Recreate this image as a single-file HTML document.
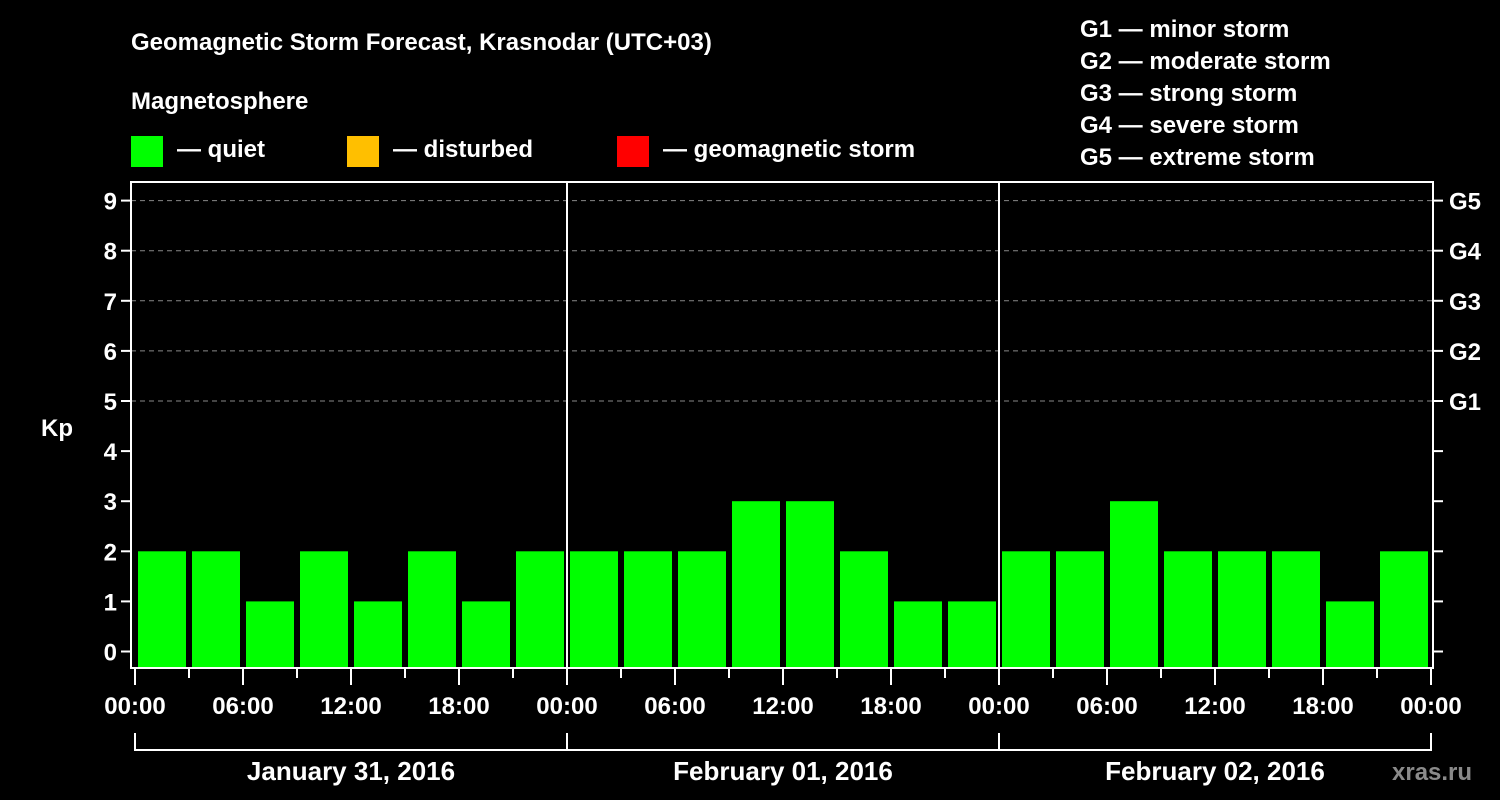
<!DOCTYPE html>
<html><head><meta charset="utf-8"><style>
body{margin:0;background:#000;width:1500px;height:800px;overflow:hidden}
svg{display:block}
text{font-family:"Liberation Sans",Arial,sans-serif;font-weight:bold;fill:#fff}
</style></head><body>
<svg id="c" width="1500" height="800" xmlns="http://www.w3.org/2000/svg">
<text x="131" y="50" font-size="24">Geomagnetic Storm Forecast, Krasnodar (UTC+03)</text>
<text x="131" y="109" font-size="24">Magnetosphere</text>
<rect x="131" y="136" width="32" height="31" fill="#00ff00"/>
<text x="177" y="157" font-size="24">— quiet</text>
<rect x="347" y="136" width="32" height="31" fill="#ffbf00"/>
<text x="393" y="157" font-size="24">— disturbed</text>
<rect x="617" y="136" width="32" height="31" fill="#ff0000"/>
<text x="663" y="157" font-size="24">— geomagnetic storm</text>
<g font-size="24">
<text x="1080" y="37">G1 — minor storm</text>
<text x="1080" y="69">G2 — moderate storm</text>
<text x="1080" y="101">G3 — strong storm</text>
<text x="1080" y="133">G4 — severe storm</text>
<text x="1080" y="165">G5 — extreme storm</text>
</g>
<text x="41" y="436" font-size="24">Kp</text>
<text x="1392" y="780" font-size="24" fill="#888" style="fill:#8a8a8a">xras.ru</text>
<g id="grid"></g><g id="bars"></g><g id="axes"></g>
</svg>
<script>
const values = [2,2,1,2,1,2,1,2, 2,2,2,3,3,2,1,1, 2,2,3,2,2,2,1,2];
const kpTicks = [0,1,2,3,4,5,6,7,8,9];
const gLabels = ['G1','G2','G3','G4','G5'];
const timeLabels = ['00:00','06:00','12:00','18:00'];
const dayLabels = ['January 31, 2016','February 01, 2016','February 02, 2016'];
const NS='http://www.w3.org/2000/svg';
const X0=135, DAYW=432, PL=131, PR=1433, PT=182, PB=668;
const y = v => 651.5 - v*50.1;
const xOfSlot = i => X0 + i*DAYW/8;
function mk(tag, attrs, parent, txt){const e=document.createElementNS(NS,tag);for(const k in attrs)e.setAttribute(k,attrs[k]);if(txt!==undefined)e.textContent=txt;parent.appendChild(e);return e;}
const grid=document.getElementById('grid'), bars=document.getElementById('bars'), axes=document.getElementById('axes');
kpTicks.forEach(k=>{
  if(k>=5){const l=mk('line',{x1:PL,x2:PR,y1:y(k),y2:y(k),stroke:'#888','stroke-dasharray':'5,4','stroke-width':1},grid);
  
  }
  const t=mk('line',{x1:PL-10,x2:PL,y1:y(k),y2:y(k),stroke:'#fff','stroke-width':2},axes);
  
  
  const t2=mk('line',{x1:PR,x2:PR+10,y1:y(k),y2:y(k),stroke:'#fff','stroke-width':2},axes);
  
  
  const lb=mk('text',{x:PL-14,y:y(k)+9,'font-size':24,'text-anchor':'end'},axes,String(k));
  
  
});
gLabels.forEach((g,i)=>{
  const lb=mk('text',{x:PR+16,y:y(5+i)+9,'font-size':24},axes,g);
  
  
});
values.forEach((v,i)=>{
  const col=v>=5?'#ff0000':(v>=4?'#ffbf00':'#00ff00');
  const r=mk('rect',{x:xOfSlot(i)+3,y:y(v),width:48,height:PB-y(v),fill:col},bars);
  
  
});
const frame=mk('rect',{x:PL,y:PT,width:PR-PL,height:PB-PT,fill:'none',stroke:'#fff','stroke-width':2},axes);


for(let d=1;d<dayLabels.length;d++){
  const l=mk('line',{x1:X0+d*DAYW,x2:X0+d*DAYW,y1:PT,y2:PB,stroke:'#fff','stroke-width':2},axes);
  
  
}
for(let i=0;i<=values.length;i++){
  const major=i%2===0;
  const l=mk('line',{x1:xOfSlot(i),x2:xOfSlot(i),y1:PB,y2:major?685:678,stroke:'#fff','stroke-width':2},axes);
  
  
  if(major){
    const lb=mk('text',{x:xOfSlot(i),y:714,'font-size':24,'text-anchor':'middle'},axes,timeLabels[(i/2)%4]);
    
    
  }
}
const br=mk('path',{d:`M${X0},733V750H${X0+DAYW*3}V733`,fill:'none',stroke:'#fff','stroke-width':2},axes);


dayLabels.forEach((d,i)=>{
  if(i>0){const l=mk('line',{x1:X0+i*DAYW,x2:X0+i*DAYW,y1:733,y2:750,stroke:'#fff','stroke-width':2},axes);
  
  }
  const lb=mk('text',{x:X0+i*DAYW+DAYW/2,y:780,'font-size':26,'text-anchor':'middle'},axes,d);
  
  
});
</script>
</body></html>
